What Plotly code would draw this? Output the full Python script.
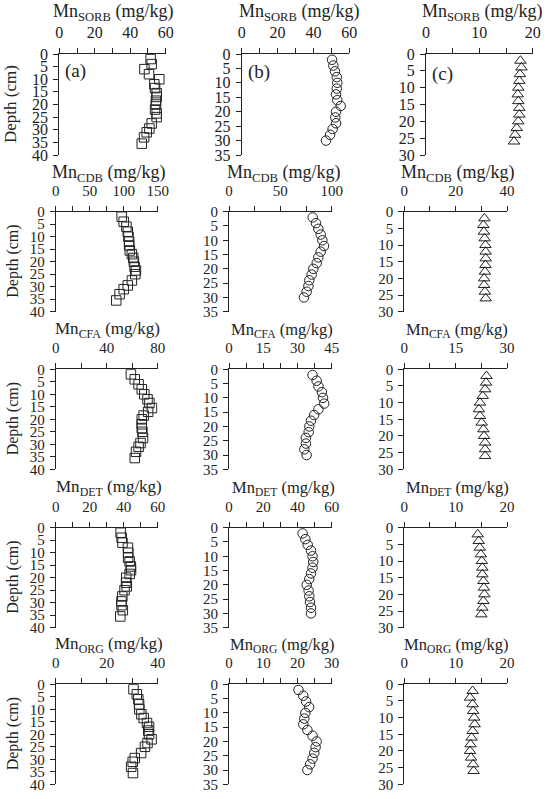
import plotly.graph_objects as go
from plotly.subplots import make_subplots

# depths (cm)
depth_a = [2, 4, 6, 8, 10, 12, 13.5, 15.5, 17, 18.5, 20, 22, 23.5, 25, 27.5, 29.5, 31, 33, 35.5]
depth_b = [2, 4, 6, 8, 10, 12, 14, 16, 18, 20, 22, 24, 26, 28, 30]
depth_c = [2, 4, 6, 8, 10, 12, 14, 16, 18, 20, 22, 24, 26]

# Mn fractions (mg/kg), site a / b / c
sorb_a = [51.5, 52.1, 48, 50.6, 56.4, 53.6, 54, 54.9, 54.9, 54.5, 54.5, 54, 54.9, 54.9, 52.1, 50.8, 49.3, 47.8, 46.5]
sorb_b = [50.4, 51.1, 52, 53, 53.3, 53, 52.6, 53.3, 55.2, 52.6, 52.2, 52.6, 50.7, 49.3, 47]
sorb_c = [17.7, 17.9, 17.6, 17.5, 17.3, 17.2, 17.3, 17.5, 17.5, 17.3, 17.0, 16.7, 16.5]

cdb_a = [97, 100, 104, 106, 107, 108, 108, 109, 112, 114, 115, 116, 118, 117, 112, 106, 100, 94, 89]
cdb_b = [81.5, 84.7, 87, 89.3, 90.9, 92.5, 89.3, 87, 85.4, 82.1, 80.5, 78.2, 77.3, 75.6, 73]
cdb_c = [31.2, 30.8, 31.0, 31.3, 31.6, 31.7, 31.7, 31.6, 31.4, 31.1, 31.1, 31.4, 31.7]

cfa_a = [59, 62, 65, 67.5, 69.5, 72, 73.5, 75.5, 72.5, 69, 67.5, 67.5, 67.5, 68, 68.5, 66.5, 65, 63, 62]
cfa_b = [36.6, 38.4, 39.2, 40.7, 41.2, 41.7, 39.2, 37.3, 35.9, 35.2, 34.9, 33.7, 33.7, 33, 34]
cfa_c = [24.0, 23.9, 23.6, 22.9, 22.1, 21.8, 22.1, 22.6, 23.1, 23.3, 23.6, 23.6, 23.6]

det_a = [38.2, 38.8, 39.3, 42.5, 42.7, 42.6, 43.5, 44.2, 44.3, 43.5, 41.5, 41.4, 41.8, 40.5, 39.2, 38.7, 38.7, 39.5, 38]
det_b = [43, 44.6, 46, 47.9, 48.8, 49.2, 48.8, 47.9, 46.9, 45.4, 46.5, 46.9, 47.3, 47.9, 47.9]
det_c = [14.3, 14.5, 14.7, 14.9, 15.1, 15.2, 15.2, 15.4, 15.5, 15.6, 15.4, 15.2, 15.0]

org_a = [30.5, 31.8, 32.4, 32.7, 32.8, 33.6, 34.5, 35.8, 36.6, 36.3, 36.6, 37.6, 36, 35, 33.5, 31, 30.2, 29.6, 30.3]
org_b = [20.3, 21.7, 22.5, 23.4, 22.3, 22, 21.7, 22.9, 24.4, 25.6, 25.3, 24.9, 24.4, 23.7, 22.9]
org_c = [13.3, 12.8, 13.3, 13.4, 13.6, 13.7, 13.3, 13.1, 12.9, 12.8, 13.0, 13.4, 13.5]

fractions = ["SORB", "CDB", "CFA", "DET", "ORG"]
values = [
    [sorb_a, sorb_b, sorb_c],
    [cdb_a, cdb_b, cdb_c],
    [cfa_a, cfa_b, cfa_c],
    [det_a, det_b, det_c],
    [org_a, org_b, org_c],
]
depths = [depth_a, depth_b, depth_c]
depth_max = [40, 35, 30]
panel_tags = ["(a)", "(b)", "(c)"]

# x axis: (max, tick step, label step)
x_axes = [
    [(60, 10, 20), (60, 10, 20), (20, 5, 10)],
    [(150, 25, 50), (100, 25, 50), (40, 10, 20)],
    [(80, 20, 40), (45, 7.5, 15), (30, 7.5, 15)],
    [(60, 10, 20), (60, 10, 20), (20, 5, 10)],
    [(40, 10, 20), (30, 5, 10), (20, 5, 10)],
]

W, H = 550, 799
# pixel boxes of plot areas
row_top = [54, 211.7, 369.3, 527.7, 684.3]
row_h = [101, 100, 100, 100, 100]
col_x = [
    [(59.3, 165.7), (241.7, 349.3), (426, 532.7)],
    [(55.7, 157.7), (229, 331.7), (404.3, 507)],
]
title_pos = [
    [(113, 13), (299, 13), (482, 13)],
    [(108.5, 173), (283, 173), (457, 173)],
    [(107, 330), (282, 330), (457, 330)],
    [(109, 488), (283, 488), (457, 488)],
    [(108.5, 645), (282, 645), (456, 645)],
]


def px(x):
    return x / W


def py(y):
    return 1 - y / H


symbols = ["square-open", "circle-open", "triangle-up-open"]
msize = [9.5, 9.5, 10]
ink = "#222222"
serif = "Times New Roman, Liberation Serif, Times, serif"

fig = make_subplots(rows=5, cols=3)
ann = []

for r in range(5):
    for c in range(3):
        fig.add_trace(go.Scatter(
            x=values[r][c], y=depths[c], mode="markers",
            marker=dict(symbol=symbols[c], size=msize[c], color=ink, line=dict(width=1, color=ink)),
            showlegend=False), row=r + 1, col=c + 1)

        x0, x1 = col_x[0][c] if r == 0 else col_x[1][c]
        fs = 16 if r == 0 else 15
        xmax, step, lstep = x_axes[r][c]

        fig.update_xaxes(row=r + 1, col=c + 1, domain=[px(x0), px(x1)], range=[0, xmax],
                         side="top", showline=True, linecolor=ink, linewidth=1, showgrid=False,
                         zeroline=False, ticks="outside", ticklen=5, tickcolor=ink,
                         tickmode="linear", tick0=0, dtick=lstep,
                         minor=dict(tickmode="linear", tick0=0, dtick=step, ticks="outside",
                                    ticklen=5, tickcolor=ink, showgrid=False),
                         ticklabelstandoff=4, automargin=False,
                         tickfont=dict(family=serif, size=fs, color=ink))
        fig.update_yaxes(row=r + 1, col=c + 1,
                         domain=[py(row_top[r] + row_h[r]), py(row_top[r])],
                         range=[depth_max[c], 0],
                         showline=True, linecolor=ink, linewidth=1, showgrid=False,
                         zeroline=False, ticks="outside", ticklen=5, tickcolor=ink,
                         tickmode="linear", tick0=0, dtick=5,
                         ticklabelstandoff=2, automargin=False,
                         tickfont=dict(family=serif, size=fs, color=ink))

        tx, ty = title_pos[r][c]
        tsize = 18 if r < 2 else (17 if c == 0 else 16.5)
        ann.append(dict(x=px(tx), y=py(ty), xref="paper", yref="paper",
                        text="Mn<sub>%s</sub> (mg/kg)" % fractions[r], showarrow=False,
                        xanchor="center", yanchor="middle",
                        font=dict(family=serif, size=tsize, color=ink)))

    # depth label on the left
    cy = row_top[r] + row_h[r] / 2
    ann.append(dict(x=px(10.5 if r == 0 else 13), y=py(cy), xref="paper", yref="paper",
                    text="Depth (cm)", textangle=-90, showarrow=False,
                    xanchor="center", yanchor="middle",
                    font=dict(family=serif, size=17 if r == 0 else 16, color=ink)))

tag_pos = [(75.5, 71.5), (259, 72), (442, 74)]
for c in range(3):
    ann.append(dict(x=px(tag_pos[c][0]), y=py(tag_pos[c][1]), xref="paper", yref="paper",
                    text=panel_tags[c], showarrow=False, xanchor="center", yanchor="middle",
                    font=dict(family=serif, size=19, color=ink)))

fig.update_layout(width=W, height=H, margin=dict(l=0, r=0, t=0, b=0, autoexpand=False),
                  plot_bgcolor="white", paper_bgcolor="white",
                  font=dict(family=serif, color=ink), annotations=ann, showlegend=False)

# drop the browser's default 8px body margin so the figure sits at the page corner
fig.write_html("out.html", config={"displayModeBar": False},
               post_script="document.body.style.margin='0px';")
